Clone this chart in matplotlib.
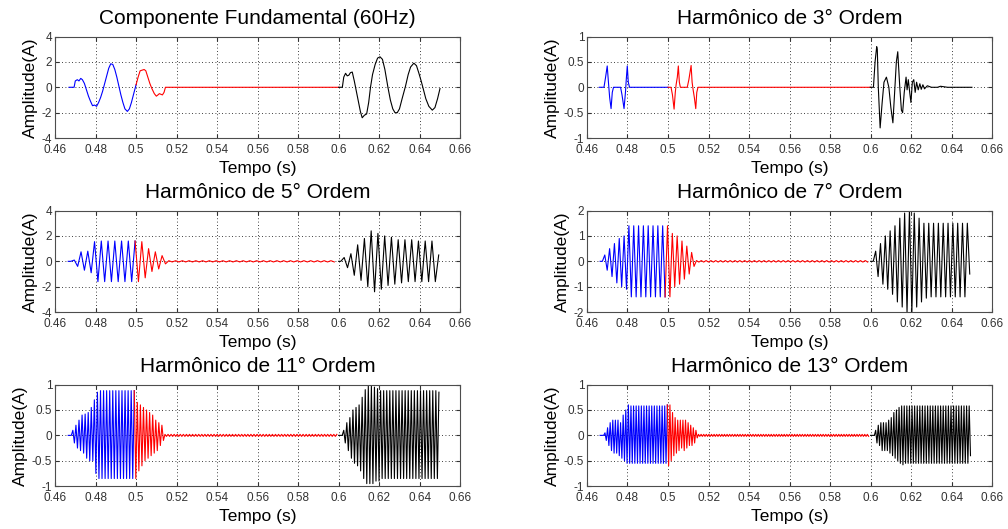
import numpy as np
import matplotlib
matplotlib.use("Agg")
import matplotlib.pyplot as plt
from matplotlib.ticker import FormatStrFormatter

plt.rcParams['font.family'] = ['Liberation Sans', 'DejaVu Sans']

# ---- Componente fundamental (60 Hz): pontos (t, amplitude)
f1_blue_t = [0.4669, 0.4694, 0.4700, 0.4710, 0.4718, 0.4727, 0.4735, 0.4745, 0.4755, 0.4765,
             0.4775, 0.4785, 0.4795, 0.4805, 0.4815, 0.4825, 0.4835, 0.4845, 0.4855, 0.4865,
             0.4875, 0.4885, 0.4895, 0.4905, 0.4915, 0.4925, 0.4935, 0.4945, 0.4957, 0.4967,
             0.4977, 0.4990, 0.5000]
f1_blue_y = [0, 0, 0.5, 0.6, 0.5, 0.7, 0.6, 0.3, -0.2, -0.7,
             -1.1, -1.45, -1.4, -1.5, -1.2, -0.8, -0.3, 0.3, 0.9, 1.5,
             1.85, 1.8, 1.4, 0.8, 0.1, -0.6, -1.2, -1.7, -1.9, -1.7,
             -1.2, -0.4, 0.2]
f1_red_t = [0.5000, 0.5010, 0.5020, 0.5030, 0.5040, 0.5048, 0.5058, 0.5068, 0.5078, 0.5090,
            0.5100, 0.5108, 0.5115, 0.5122, 0.5130, 0.5138, 0.5145, 0.6000]
f1_red_y = [0.2, 0.8, 1.3, 1.35, 1.4, 1.3, 0.8, 0.3, -0.1, -0.5,
            -0.7, -0.6, -0.5, -0.55, -0.6, -0.4, 0, 0]
f1_black_t = [0.6000, 0.6018, 0.6025, 0.6034, 0.6042, 0.6050, 0.6058, 0.6067, 0.6077, 0.6087,
              0.6097, 0.6107, 0.6116, 0.6127, 0.6138, 0.6148, 0.6157, 0.6167, 0.6180, 0.6192,
              0.6204, 0.6216, 0.6228, 0.6243, 0.6255, 0.6267, 0.6278, 0.6289, 0.6300, 0.6313,
              0.6330, 0.6343, 0.6355, 0.6371, 0.6384, 0.6396, 0.6407, 0.6417, 0.6430, 0.6445,
              0.6462, 0.6475, 0.6488, 0.6500]
f1_black_y = [0, 0, 0.8, 1.1, 0.9, 0.95, 1.15, 1.2, 0.5, -0.3,
              -1.1, -1.9, -2.4, -2.2, -2.1, -1.2, 0, 1.0, 1.8, 2.3,
              2.4, 2.2, 1.4, 0, -1.0, -1.7, -2.0, -2.0, -1.7, -0.9,
              0.1, 1.0, 1.6, 1.9, 1.7, 1.1, 0.5, -0.1, -0.9, -1.5,
              -1.8, -1.6, -0.9, -0.1]

# ---- 3a harmonica: pontos
h3_blue_t = [0.4661, 0.4684, 0.4692, 0.4700, 0.4706, 0.4712, 0.4719, 0.4725, 0.4731, 0.4766,
             0.4773, 0.4783, 0.4790, 0.4794, 0.4799, 0.4804, 0.4810, 0.5000]
h3_blue_y = [0, 0, 0.2, 0.42, 0.1, -0.2, -0.42, -0.1, 0, 0,
             -0.15, -0.42, -0.1, 0.15, 0.42, 0.1, 0, 0]
h3_red_t = [0.5000, 0.5015, 0.5022, 0.5030, 0.5036, 0.5040, 0.5046, 0.5051, 0.5056, 0.5061,
            0.5095, 0.5103, 0.5114, 0.5119, 0.5124, 0.5130, 0.5137, 0.5142, 0.5148, 0.6000]
h3_red_y = [0, 0, -0.15, -0.43, -0.1, 0.05, 0.2, 0.42, 0.1, 0,
            0, 0.15, 0.43, 0.1, -0.05, -0.2, -0.42, -0.1, 0, 0]
h3_black_t = [0.5998, 0.6014, 0.6022, 0.6030, 0.6033, 0.6038, 0.6047, 0.6057, 0.6066, 0.6078,
              0.6090, 0.6100, 0.6110, 0.6120, 0.6127, 0.6134, 0.6144, 0.6152, 0.6158, 0.6166,
              0.6175, 0.6180, 0.6186, 0.6193, 0.6199, 0.6206, 0.6213, 0.6220, 0.6227, 0.6235,
              0.6243, 0.6250, 0.6258, 0.6266, 0.6280, 0.6300, 0.6330, 0.6345, 0.6380, 0.6500]
h3_black_y = [0, 0, 0.5, 0.8, 0.75, 0.0, -0.8, -0.3, 0.1, 0.2,
              0, -0.4, -0.7, 0, 0.5, 0.7, 0, -0.45, -0.5, -0.1,
              0.2, -0.05, 0.15, -0.1, -0.3, 0.1, 0.15, -0.1, 0.1, -0.05,
              0.07, -0.04, 0.05, -0.03, 0.03, 0, 0, 0.02, 0, 0]

# ---- 5a, 7a, 11a e 13a harmonicas: amplitude de cada semiciclo
h5_start = 0.4695
h5_blue = [0.1, 0.4, 0.75, 0.7, 0.8, 0.9, 1.55, 1.6, 1.6, 1.6, 1.6, 1.6, 1.6, 1.6, 1.6, 1.6,
           1.6, 1.6, 1.6]
h5_red = [1.6, 1.55, 1.3, 1.0, 0.8, 0.75, 0.6, 0.45, 0.2]
h5_black_start = 0.6027
h5_black = [0.3, 0.5, 0.6, 1.1, 1.3, 1.5, 1.8, 2.0, 2.4, 2.4, 2.2, 2.2, 2.0, 1.9, 1.9, 1.8,
            1.7, 1.7, 1.7, 1.6, 1.7, 1.6, 1.6, 1.6, 1.6, 1.6, 1.6, 1.6, 0.5]
h5_ripple = 0.05

h7_start = 0.4688
h7_blue = [0.25, 0.35, 0.5, 0.6, 0.7, 0.85, 0.9, 1.0, 1.0, 1.1, 1.4, 1.4, 1.4, 1.4, 1.4, 1.4,
           1.4, 1.4, 1.4, 1.4, 1.4, 1.4, 1.4, 1.4, 1.4, 1.4]
h7_red = [1.4, 1.4, 1.1, 1.0, 1.0, 0.9, 0.8, 0.7, 0.6, 0.5, 0.35, 0.2]
h7_black_start = 0.6025
h7_black = [0.4, 0.6, 0.7, 0.9, 1.0, 1.1, 1.2, 1.3, 1.4, 1.6, 1.7, 1.8, 1.9, 2.0, 2.0, 2.0,
            1.9, 1.8, 1.7, 1.6, 1.5, 1.45, 1.5, 1.4, 1.5, 1.4, 1.5, 1.4, 1.5, 1.4, 1.5, 1.4,
            1.5, 1.4, 1.5, 1.4, 1.5, 1.4, 1.5, 0.5]
h7_ripple = 0.03

h11_start = 0.4688
h11_blue = [0.1, 0.15, 0.2, 0.25, 0.3, 0.3, 0.4, 0.35, 0.42, 0.45, 0.45, 0.5, 0.55, 0.5, 0.7, 0.75,
            0.85, 0.85, 0.88, 0.85, 0.88, 0.85, 0.88, 0.85, 0.88, 0.85, 0.88, 0.85, 0.88, 0.85, 0.88, 0.85,
            0.88, 0.85, 0.88, 0.85, 0.88, 0.85, 0.88, 0.85, 0.88]
h11_red = [0.85, 0.65, 0.7, 0.6, 0.6, 0.55, 0.5, 0.5, 0.45, 0.45, 0.4, 0.4, 0.35, 0.3, 0.3, 0.25,
           0.2, 0.2, 0.1]
h11_black_start = 0.6025
h11_black = [0.1, 0.15, 0.25, 0.3, 0.35, 0.45, 0.5, 0.55, 0.55, 0.6, 0.6, 0.7, 0.75, 0.85, 0.9, 0.95,
             0.97, 0.95, 0.97, 0.95, 0.95, 0.9, 0.92, 0.9, 0.88, 0.85, 0.88, 0.85, 0.88, 0.85, 0.88, 0.85,
             0.88, 0.85, 0.88, 0.85, 0.88, 0.85, 0.88, 0.85, 0.88, 0.85, 0.88, 0.85, 0.88, 0.85, 0.88, 0.85,
             0.88, 0.85, 0.88, 0.85, 0.88, 0.85, 0.88, 0.85, 0.88, 0.85, 0.88, 0.85, 0.88, 0.85, 0.85]
h11_ripple = 0.02

h13_start = 0.4689
h13_blue = [0.05, 0.1, 0.15, 0.2, 0.25, 0.3, 0.3, 0.35, 0.3, 0.35, 0.3, 0.4, 0.25, 0.45, 0.4, 0.5,
            0.5, 0.55, 0.6, 0.55, 0.58, 0.55, 0.58, 0.55, 0.58, 0.55, 0.58, 0.55, 0.58, 0.55, 0.58, 0.55,
            0.58, 0.55, 0.58, 0.55, 0.58, 0.55, 0.58, 0.55, 0.58, 0.55, 0.58, 0.55, 0.58, 0.55, 0.58, 0.55,
            0.6]
h13_red = [0.6, 0.6, 0.5, 0.45, 0.4, 0.35, 0.35, 0.3, 0.3, 0.3, 0.25, 0.3, 0.3, 0.3, 0.25, 0.25,
           0.2, 0.2, 0.2, 0.15, 0.15, 0.1, 0.05]
h13_black_start = 0.6025
h13_black = [0.1, 0.15, 0.2, 0.2, 0.25, 0.3, 0.25, 0.3, 0.25, 0.3, 0.3, 0.35, 0.35, 0.4, 0.45, 0.45,
             0.5, 0.5, 0.55, 0.55, 0.58, 0.58, 0.58, 0.55, 0.58, 0.55, 0.58, 0.55, 0.58, 0.55, 0.58, 0.55,
             0.58, 0.55, 0.58, 0.55, 0.58, 0.55, 0.58, 0.55, 0.58, 0.55, 0.58, 0.55, 0.58, 0.55, 0.58, 0.55,
             0.58, 0.55, 0.58, 0.55, 0.58, 0.55, 0.58, 0.55, 0.58, 0.55, 0.58, 0.55, 0.58, 0.55, 0.58, 0.55,
             0.58, 0.55, 0.58, 0.55, 0.58, 0.55, 0.58, 0.55, 0.58, 0.4]
h13_ripple = 0.02

titles = ['Componente Fundamental (60Hz)', 'Harmônico de 3° Ordem',
          'Harmônico de 5° Ordem', 'Harmônico de 7° Ordem',
          'Harmônico de 11° Ordem', 'Harmônico de 13° Ordem']
ylims = [4, 1, 4, 2, 1, 1]
ysteps = [2, 0.5, 2, 1, 0.5, 0.5]
xticks = np.arange(0.46, 0.6601, 0.02)

blue_on = 0.4665   # inicio do trecho azul
black_on = 0.6     # inicio do trecho preto
lw = 0.8


def zigzag(t0, order, amps, first_index=0):
    # picos alternados, um por semiciclo da harmonica
    rate = 2 * 60 * order
    idx = first_index + np.arange(len(amps))
    t = t0 + idx / rate
    y = np.where(idx % 2 == 0, 1, -1) * np.array(amps)
    return t, y


def harmonic(ax, order, start, blue, red, black_start, black, ripple):
    rate = 2 * 60 * order
    tb, yb = zigzag(start, order, blue)
    tr, yr = zigzag(start, order, red, first_index=len(blue))
    # ondulacao pequena entre o fim do vermelho e o inicio do preto
    n0 = len(blue) + len(red)
    n_rip = int((black_on - start) * rate) - n0
    tp, yp = zigzag(start, order, [ripple] * n_rip, first_index=n0)
    tk, yk = zigzag(black_start, order, black)
    ax.plot(np.r_[blue_on, start - 1 / rate, tb], np.r_[0, 0, yb], color='b', lw=lw)
    ax.plot(np.r_[tb[-1], tr, tp], np.r_[yb[-1], yr, yp], color='r', lw=lw)
    ax.plot(np.r_[black_on, black_start - 1 / rate, tk], np.r_[0, 0, yk], color='k', lw=lw)


fig = plt.figure(figsize=(10.08, 5.29), dpi=100)
lefts = [0.0546, 0.5823]
bottoms = [0.739, 0.410, 0.081]
axes = []
for r in range(3):
    for c in range(2):
        axes.append(fig.add_axes([lefts[c], bottoms[r], 0.402, 0.192]))

ax = axes[0]
ax.plot(f1_blue_t, f1_blue_y, color='b', lw=lw)
ax.plot(f1_red_t, f1_red_y, color='r', lw=lw)
ax.plot(f1_black_t, f1_black_y, color='k', lw=lw)

ax = axes[1]
ax.plot(h3_blue_t, h3_blue_y, color='b', lw=lw)
ax.plot(h3_red_t, h3_red_y, color='r', lw=lw)
ax.plot(h3_black_t, h3_black_y, color='k', lw=lw)

harmonic(axes[2], 5, h5_start, h5_blue, h5_red, h5_black_start, h5_black, h5_ripple)
harmonic(axes[3], 7, h7_start, h7_blue, h7_red, h7_black_start, h7_black, h7_ripple)
harmonic(axes[4], 11, h11_start, h11_blue, h11_red, h11_black_start, h11_black, h11_ripple)
harmonic(axes[5], 13, h13_start, h13_blue, h13_red, h13_black_start, h13_black, h13_ripple)

for ax, title, ylim, ystep in zip(axes, titles, ylims, ysteps):
    ax.set_xlim(0.46, 0.66)
    ax.set_ylim(-ylim, ylim)
    ax.set_xticks(xticks)
    ax.set_yticks(np.arange(-ylim, ylim + ystep / 2, ystep))
    ax.xaxis.set_major_formatter(FormatStrFormatter('%g'))
    ax.yaxis.set_major_formatter(FormatStrFormatter('%g'))
    ax.grid(True, linestyle=(0, (1, 3)), color='k', linewidth=0.6)
    ax.tick_params(direction='in', length=3, top=True, right=True, labelsize=8.5,
                   pad=2, colors='0.2')
    ax.tick_params(axis='x', pad=4)
    for s in ax.spines.values():
        s.set_color('0.3')
        s.set_linewidth(0.8)
    ax.set_title(title, fontsize=15, pad=9)
    ax.set_xlabel('Tempo (s)', fontsize=12.5, labelpad=4)
    ax.set_ylabel('Amplitude(A)', fontsize=12.5, labelpad=3)

fig.savefig('out.png', dpi=100)
